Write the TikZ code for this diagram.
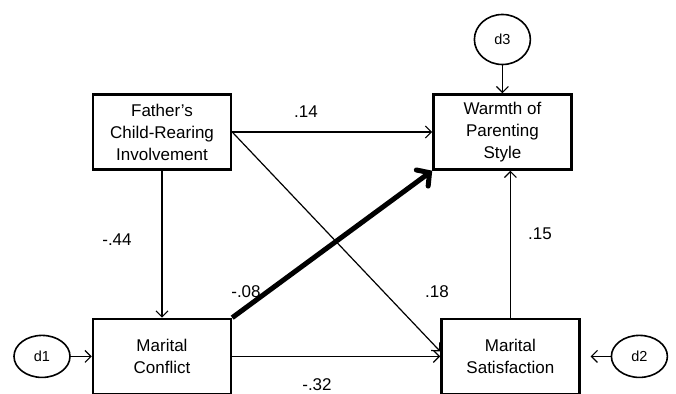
\documentclass[tikz,border=0pt]{standalone}
\usepackage{fontspec}
\setmainfont{Liberation Sans}
\usetikzlibrary{positioning,arrows.meta,shapes.geometric}

\tikzset{
  var/.style={draw, line width=2.4pt, minimum width=138pt, minimum height=75pt,
    inner sep=0pt, align=center, font=\fontsize{17}{22}\selectfont},
  dist/.style={draw, ellipse, line width=1.6pt, minimum width=56pt, minimum height=42pt,
    inner sep=0pt, font=\fontsize{14.5}{16}\selectfont},
  effect/.style={line width=1.2pt, -{Straight Barb[length=6pt,width=12pt]}},
  strong/.style={line width=5pt, -{Straight Barb[length=9pt,width=20pt,line cap=round]}},
  coef/.style={inner sep=0pt, font=\fontsize{17}{20}\selectfont}
}

\begin{document}
\begin{tikzpicture}[x=1pt, y=-1pt]
  \useasboundingbox (0,0) rectangle (676,393);
  \clip (0,0) rectangle (676,393);

  % observed variables
  \node[var] (father) at (162,132) {Father’s\\Child-Rearing\\Involvement};
  \node[var, right=200pt of father] (warmth) {Warmth of\\Parenting\\Style};
  \node[var, below=147pt of father] (conflict) {Marital\\Conflict};
  \node[var, right=208pt of conflict] (satisf) {Marital\\Satisfaction};

  % disturbances
  \node[dist, left=21pt of conflict] (d1) {d1};
  \node[dist, right=30pt of satisf] (d2) {d2};
  \node[dist, above=28pt of warmth, minimum height=50pt] (d3) {d3};

  % paths
  \draw[effect] (father) -- (warmth);
  \draw[effect] (father) -- (conflict);
  \draw[effect] (father.east) -- ([yshift=5pt]satisf.west);
  \draw[effect] (conflict) -- (satisf);
  \draw[effect] (satisf.north) -- (satisf.north |- warmth.south);
  \draw[strong] (conflict.north east) -- (warmth.south west);
  \draw[effect] (d1) -- (conflict);
  \draw[effect, shorten >=10pt] (d2) -- (satisf);
  \draw[effect] (d3) -- (warmth);

  % coefficients
  \node[coef] (b14) at (306,112) {.14};
  \node[coef] (b44) at (117,240) {-.44};
  \node[coef] (b08) at (246,292) {-.08};
  \node[coef] (b18) at (437,292) {.18};
  \node[coef] (b15) at (540,234) {.15};
  \node[coef] (b32) at (317,385) {-.32};
\end{tikzpicture}
\end{document}
